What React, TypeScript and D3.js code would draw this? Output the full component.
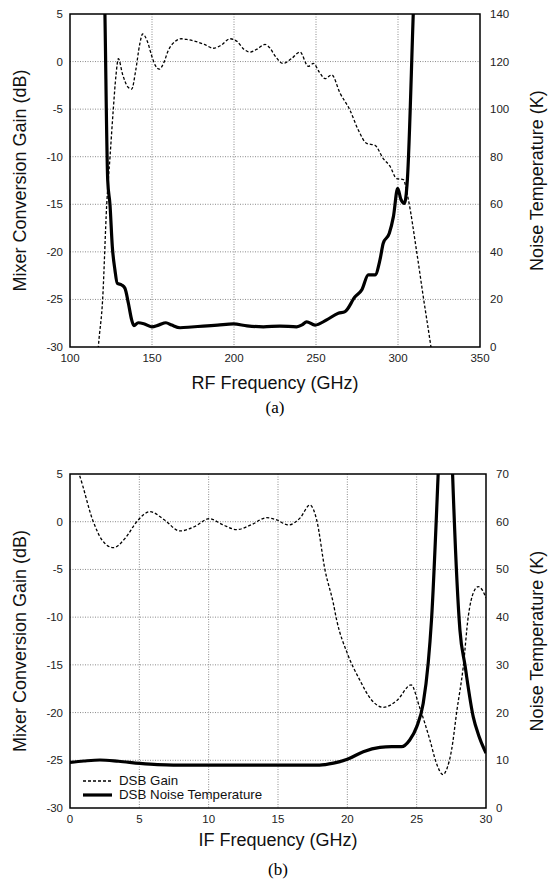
import React from 'react'
import * as d3 from 'd3'

// ── (a) RF sweep ────────────────────────────────────────────────
const rfGainFreq = [115, 117.3, 119.9, 122.4, 124.4, 126.4, 128, 129.5, 132, 135, 137.6, 140, 142.5, 144.3, 147, 150, 152, 154.5, 157, 160, 164, 168.1, 172, 177, 182, 187.4, 192, 197.6, 202, 206, 209.8, 214, 218.9, 222, 225, 230, 235, 240.2, 245.3, 248.4, 252, 255.5, 259.6, 264.6, 270.7, 275.8, 280.9, 286, 291, 295.1, 299.2, 303.2, 306.3, 311.4, 315.4, 320.1, 323]
const rfGain = [-36.5, -30, -25, -15, -10, -5, -1.5, 0.3, -1.3, -2.6, -2.9, -1, 1.8, 2.9, 2.2, 0.5, -0.4, -0.8, -0.2, 1.2, 2.1, 2.4, 2.3, 2.1, 1.8, 1.4, 1.7, 2.4, 2.1, 1.3, 1.0, 1.3, 1.8, 1.4, 0.6, -0.2, 0.3, 1.0, -0.5, -0.2, -1.1, -1.8, -1.4, -3.3, -5.1, -7.2, -8.6, -8.8, -10.2, -11.0, -12.3, -12.4, -14.5, -20.0, -24.7, -30, -33.5]

const rfNoiseFreq = [120.8, 121.3, 123, 124.4, 125.8, 127.4, 128.8, 131.5, 133.5, 135.6, 137.6, 139, 141.6, 145, 149.8, 154, 158.5, 162, 167.1, 174, 181.3, 190, 199.6, 208, 217.9, 228, 238.2, 241.5, 244.3, 249.4, 256.5, 263.6, 267.7, 273.8, 277.9, 281.9, 286, 289, 291, 294.7, 297.2, 299.8, 301.8, 303.9, 305.7, 309.3, 309.9]
const rfNoise = [160, 140, 70, 59.7, 42.2, 32.4, 26.8, 26.1, 24.7, 18.4, 11.4, 9.0, 10.2, 9.8, 8.5, 9.2, 10.2, 9.2, 8.1, 8.4, 8.8, 9.2, 9.7, 8.9, 8.5, 8.8, 8.5, 9.3, 10.6, 9.2, 11.4, 14.2, 14.9, 21.1, 24.0, 30.3, 30.3, 36.6, 43.6, 47.8, 54.8, 66.7, 62, 60.4, 70.2, 140, 152]

// ── (b) IF sweep ────────────────────────────────────────────────
const ifGainFreq = [0, 0.65, 1.68, 2.3, 3.12, 4.0, 4.81, 5.77, 6.8, 7.93, 9.0, 10.04, 11.0, 12.02, 13.1, 14.18, 14.9, 15.74, 16.6, 17.3, 17.79, 18.39, 18.99, 19.23, 20, 20.9, 21.7, 22.6, 23.6, 24.6, 25.2, 25.96, 26.4, 26.9, 27.2, 27.52, 27.9, 28.36, 28.72, 29.1, 29.44, 29.75, 30]
const ifGain = [7.2, 5, 0, -1.9, -2.72, -1.7, 0, 1.05, 0.2, -0.97, -0.5, 0.32, -0.3, -0.83, -0.3, 0.42, 0.2, -0.34, 0.4, 1.75, 0.18, -5.06, -8.55, -10.3, -13.8, -16.6, -18.6, -19.45, -18.7, -17.1, -19.4, -22.9, -25.2, -26.5, -25.8, -23.9, -19.8, -15.2, -9.95, -7.4, -6.8, -7.2, -8.0]

const ifNoiseFreq = [0, 1, 2.16, 3.5, 5.05, 6.3, 7.45, 10, 13, 16, 18, 19, 20, 21.15, 22.35, 23.2, 23.9, 24.5, 25.0, 25.47, 25.83, 26.07, 26.55, 26.85, 27.1, 27.35, 27.59, 28.12, 28.48, 29.08, 29.5, 30]
const ifNoise = [9.57, 9.85, 10.06, 9.8, 9.36, 9.1, 9.0, 9.0, 9.0, 9.0, 9.0, 9.4, 10.2, 11.8, 12.7, 12.85, 12.85, 14.25, 17.0, 21.9, 30.3, 39.4, 70, 92, 100, 92, 70, 37.3, 30, 19.1, 15, 11.5]

const rfXTicks = [100, 150, 200, 250, 300, 350]
const ifXTicks = [0, 5, 10, 15, 20, 25, 30]
const gainTicks = [-30, -25, -20, -15, -10, -5, 0, 5]
const rfNoiseTicks = [0, 20, 40, 60, 80, 100, 120, 140]
const ifNoiseTicks = [0, 10, 20, 30, 40, 50, 60, 70]

const SANS = 'Liberation Sans, Arial, sans-serif'
const SERIF = 'Liberation Serif, Times New Roman, serif'

type PanelProps = {
  id: string
  x0: number; x1: number; y0: number; y1: number
  xDomain: [number, number]
  nDomain: [number, number]
  xTicks: number[]
  nTicks: number[]
  gainX: number[]; gain: number[]
  noiseX: number[]; noise: number[]
  xTitle: string
  xTitleY: number
  caption: string
  captionY: number
  legend?: boolean
}

function Panel(p: PanelProps) {
  const xS = d3.scaleLinear().domain(p.xDomain).range([p.x0, p.x1])
  const gS = d3.scaleLinear().domain([-30, 5]).range([p.y1, p.y0])
  const nS = d3.scaleLinear().domain(p.nDomain).range([p.y1, p.y0])

  const gainLine = d3.line<number>().x((_, i) => xS(p.gainX[i])).y(d => gS(d)).curve(d3.curveMonotoneX)
  const noiseLine = d3.line<number>().x((_, i) => xS(p.noiseX[i])).y(d => nS(d)).curve(d3.curveMonotoneX)

  const cx = (p.x0 + p.x1) / 2
  const cy = (p.y0 + p.y1) / 2
  const grid = '#8a8a8a'

  return (
    <g>
      <defs>
        <clipPath id={p.id}>
          <rect x={p.x0} y={p.y0} width={p.x1 - p.x0} height={p.y1 - p.y0} />
        </clipPath>
      </defs>

      {/* grid */}
      {p.xTicks.slice(1, -1).map(t => (
        <line key={'gx' + t} x1={xS(t)} x2={xS(t)} y1={p.y0} y2={p.y1} stroke={grid} strokeWidth={1} strokeDasharray="1,1.5" />
      ))}
      {gainTicks.slice(1, -1).map(t => (
        <line key={'gy' + t} x1={p.x0} x2={p.x1} y1={gS(t)} y2={gS(t)} stroke={grid} strokeWidth={1} strokeDasharray="1,1.5" />
      ))}

      {/* curves */}
      <g clipPath={`url(#${p.id})`}>
        <path d={gainLine(p.gain) || ''} fill="none" stroke="#000" strokeWidth={1.3} strokeDasharray="3,2" />
        <path d={noiseLine(p.noise) || ''} fill="none" stroke="#000" strokeWidth={3.2} />
      </g>

      <rect x={p.x0} y={p.y0} width={p.x1 - p.x0} height={p.y1 - p.y0} fill="none" stroke="#000" strokeWidth={1.5} />

      {/* tick labels */}
      {p.xTicks.map(t => (
        <text key={'xt' + t} x={xS(t)} y={p.y1 + 15} textAnchor="middle" fontSize={11.5} fill="#222" fontFamily={SANS}>{t}</text>
      ))}
      {gainTicks.map(t => (
        <text key={'lt' + t} x={p.x0 - 7} y={gS(t) + 4} textAnchor="end" fontSize={11.5} fill="#222" fontFamily={SANS}>{t}</text>
      ))}
      {p.nTicks.map(t => (
        <text key={'rt' + t} x={p.x1 + 10} y={nS(t) + 4} textAnchor="start" fontSize={11.5} fill="#222" fontFamily={SANS}>{t}</text>
      ))}

      {/* titles */}
      <text x={26} y={cy} transform={`rotate(-90, 26, ${cy})`} textAnchor="middle" fontSize={18} fill="#111" fontFamily={SANS}>Mixer Conversion Gain (dB)</text>
      <text x={543} y={cy} transform={`rotate(-90, 543, ${cy})`} textAnchor="middle" fontSize={18} fill="#111" fontFamily={SANS}>Noise Temperature (K)</text>
      <text x={cx} y={p.xTitleY} textAnchor="middle" fontSize={18} fill="#111" fontFamily={SANS}>{p.xTitle}</text>
      <text x={cx} y={p.captionY} textAnchor="middle" fontSize={17} fill="#000" fontFamily={SERIF}>{p.caption}</text>

      {p.legend && (
        <g fontFamily={SANS} fontSize={13.3} fill="#111">
          <line x1={83} x2={112} y1={p.y1 - 27} y2={p.y1 - 27} stroke="#000" strokeWidth={1.3} strokeDasharray="3,2" />
          <text x={119} y={p.y1 - 23}>DSB Gain</text>
          <line x1={83} x2={112} y1={p.y1 - 13} y2={p.y1 - 13} stroke="#000" strokeWidth={3.2} />
          <text x={119} y={p.y1 - 9}>DSB Noise Temperature</text>
        </g>
      )}
    </g>
  )
}

export default function App() {
  return (
    <svg width={554} height={880} style={{ position: 'absolute', left: 0, top: 0, background: '#fff' }}>
      <Panel id="clipA" x0={70} x1={480} y0={14} y1={347} xDomain={[100, 350]} nDomain={[0, 140]}
        xTicks={rfXTicks} nTicks={rfNoiseTicks}
        gainX={rfGainFreq} gain={rfGain} noiseX={rfNoiseFreq} noise={rfNoise}
        xTitle="RF Frequency (GHz)" xTitleY={389} caption="(a)" captionY={413} />
      <Panel id="clipB" x0={70} x1={486} y0={474} y1={808} xDomain={[0, 30]} nDomain={[0, 70]}
        xTicks={ifXTicks} nTicks={ifNoiseTicks}
        gainX={ifGainFreq} gain={ifGain} noiseX={ifNoiseFreq} noise={ifNoise}
        xTitle="IF Frequency (GHz)" xTitleY={846} caption="(b)" captionY={875} legend />
    </svg>
  )
}
